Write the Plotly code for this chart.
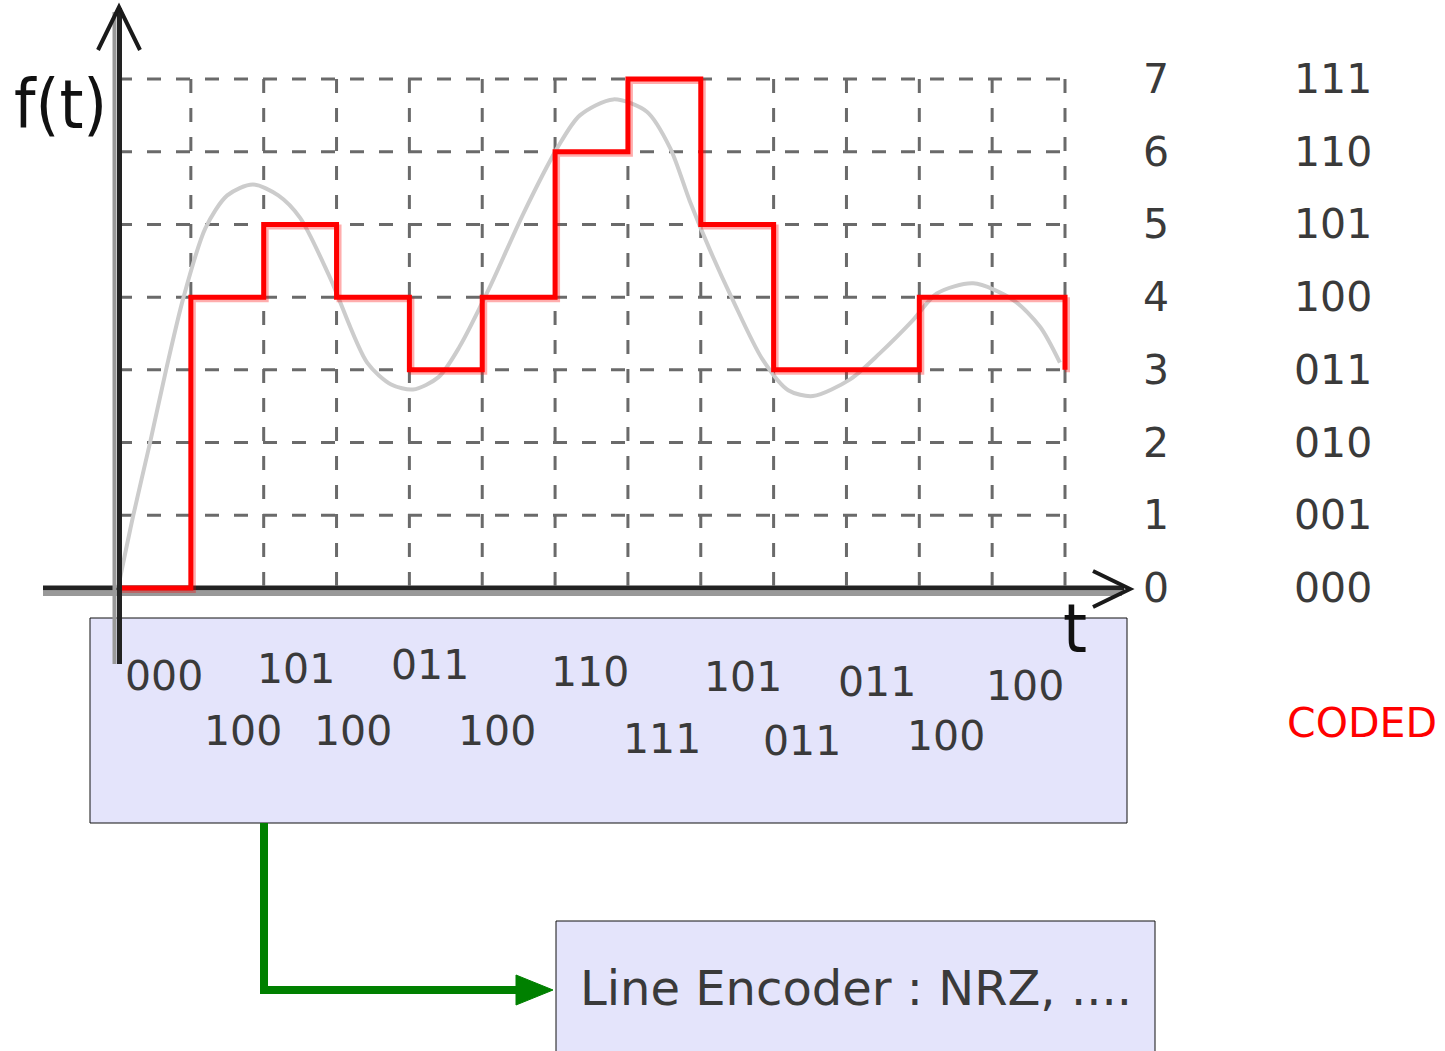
import plotly.graph_objects as go

# ---------------- data ----------------
t_edges = list(range(14))                       # sample instants 0..13
sample_levels = [0, 4, 5, 4, 3, 4, 6, 7, 5, 3, 3, 4, 4]   # quantized level per interval
final_level = 3                                  # drop at the right end
sample_codes = ["000", "100", "101", "100", "011", "100", "110",
                "111", "101", "011", "011", "100", "100"]

analog_t = [0, 0.21, 0.44, 0.66, 0.9, 1.2, 1.5, 1.85, 2.2, 2.5, 2.91, 3.42,
            3.75, 4.05, 4.4, 4.69, 5.1, 5.56, 6.03, 6.34, 6.8, 7.26, 7.58, 7.85,
            8.13, 8.44, 8.85, 9.2, 9.54, 10.05, 10.46, 10.91, 11.24, 11.74,
            12.29, 12.66, 12.93]
analog_f = [0, 1.0, 2.0, 3.0, 4.0, 4.95, 5.4, 5.55, 5.4, 5.09, 4.27, 3.1,
            2.8, 2.73, 2.9, 3.32, 4.13, 5.14, 6.05, 6.5, 6.72, 6.55, 6.05, 5.32,
            4.64, 3.96, 3.14, 2.72, 2.64, 2.87, 3.23, 3.68, 4.05, 4.19,
            3.96, 3.59, 3.1]

level_values = [0, 1, 2, 3, 4, 5, 6, 7]
level_codes = ["000", "001", "010", "011", "100", "101", "110", "111"]

# ---------------- layout geometry (pixels) ----------------
W, H = 1445, 1051
PX_T0, PX_PER_T = 118.0, 72.846
PY_Y0, PX_PER_Y = 588.0, 72.71
x_range = [-PX_T0 / PX_PER_T, (W - PX_T0) / PX_PER_T]
y_range = [(PY_Y0 - H) / PX_PER_Y, PY_Y0 / PX_PER_Y]
SH = 2.5  # shadow offset in px
x2_range = [x_range[0] - SH / PX_PER_T, x_range[1] - SH / PX_PER_T]
y2_range = [y_range[0] + SH / PX_PER_Y, y_range[1] + SH / PX_PER_Y]

def px(x):
    return x / W

def py(y):
    return 1 - y / H

TXT = "#3a3a3a"
FONT = "DejaVu Sans"
GRID_C = "#6a6a6a"

fig = go.Figure()

# grid lines (dashed)
t_max = t_edges[-1]
lvl_max = level_values[-1]
gx, gy = [], []
for t in t_edges[1:]:
    gx += [t, t, None]
    gy += [lvl_max, 0, None]
fig.add_trace(go.Scatter(x=gx, y=gy, mode="lines",
                         line=dict(color=GRID_C, width=3, dash="14px,15px"),
                         hoverinfo="skip", showlegend=False))
hx, hy = [], []
for v in level_values[1:]:
    hx += [0, t_max, None]
    hy += [v, v, None]
fig.add_trace(go.Scatter(x=hx, y=hy, mode="lines",
                         line=dict(color=GRID_C, width=3, dash="14px,15px"),
                         hoverinfo="skip", showlegend=False))

# analog signal
fig.add_trace(go.Scatter(x=analog_t, y=analog_f, mode="lines",
                         line=dict(color="#cccccc", width=4, shape="spline", smoothing=0.8),
                         hoverinfo="skip", showlegend=False))

# quantized step signal (pink shadow on offset axes, then red)
step_x = t_edges + [t_edges[-1]]
step_y = sample_levels + [sample_levels[-1], final_level]
fig.add_trace(go.Scatter(x=step_x, y=step_y, mode="lines",
                         line=dict(color="rgba(255,0,0,0.32)", width=5, shape="hv"),
                         hoverinfo="skip", showlegend=False, xaxis="x2", yaxis="y2"))
fig.add_trace(go.Scatter(x=step_x, y=step_y, mode="lines",
                         line=dict(color="#ff0000", width=5, shape="hv"),
                         hoverinfo="skip", showlegend=False))

shapes = []
# boxes
shapes.append(dict(type="rect", xref="paper", yref="paper",
                   x0=px(90), x1=px(1127), y0=py(823), y1=py(618),
                   fillcolor="#e4e4fb", line=dict(color="#111111", width=1), layer="below"))
shapes.append(dict(type="rect", xref="paper", yref="paper",
                   x0=px(556), x1=px(1155), y0=py(1060), y1=py(921),
                   fillcolor="#e4e4fb", line=dict(color="#111111", width=1), layer="below"))
# x-axis (shadow + line)
shapes.append(dict(type="line", xref="paper", yref="paper",
                   x0=px(43), x1=px(1122), y0=py(593.5), y1=py(593.5),
                   line=dict(color="#999999", width=5), layer="below"))
shapes.append(dict(type="line", xref="paper", yref="paper",
                   x0=px(43), x1=px(1124), y0=py(588), y1=py(588),
                   line=dict(color="#222222", width=5), layer="below"))
# x-axis arrow head
shapes.append(dict(type="path", xref="paper", yref="paper",
                   path=f"M {px(1093)},{py(571)} L {px(1130)},{py(589)} L {px(1093)},{py(607)}",
                   line=dict(color="#1a1a1a", width=4), layer="above"))
# y-axis (shadow + line)
shapes.append(dict(type="line", xref="paper", yref="paper",
                   x0=px(114.5), x1=px(114.5), y0=py(664), y1=py(12),
                   line=dict(color="#999999", width=4), layer="above"))
shapes.append(dict(type="line", xref="paper", yref="paper",
                   x0=px(119.5), x1=px(119.5), y0=py(664), y1=py(8),
                   line=dict(color="#222222", width=5), layer="above"))
shapes.append(dict(type="path", xref="paper", yref="paper",
                   path=f"M {px(98)},{py(50)} L {px(119)},{py(7)} L {px(140)},{py(50)}",
                   line=dict(color="#1a1a1a", width=4), layer="above"))
# green connector
shapes.append(dict(type="path", xref="paper", yref="paper",
                   path=f"M {px(264)},{py(823)} L {px(264)},{py(990)} L {px(520)},{py(990)}",
                   line=dict(color="#008000", width=8), layer="above"))
shapes.append(dict(type="path", xref="paper", yref="paper",
                   path=f"M {px(516)},{py(975)} L {px(553)},{py(990)} L {px(516)},{py(1005)} Z",
                   fillcolor="#008000", line=dict(color="#008000", width=1), layer="above"))

annotations = []
# level numbers and codes on the right
for v, c in zip(level_values, level_codes):
    annotations.append(dict(x=px(1156), xref="paper", y=v, yref="y", text=str(v),
                            showarrow=False, font=dict(family=FONT, size=41, color=TXT),
                            xanchor="center", yanchor="middle"))
    annotations.append(dict(x=px(1333), xref="paper", y=v, yref="y", text=c,
                            showarrow=False, font=dict(family=FONT, size=41, color=TXT),
                            xanchor="center", yanchor="middle"))

# codes inside the box (staggered in two rows)
code_pos = [(164, 676), (243, 731), (296, 669), (353, 731), (430, 665), (497, 731),
            (590, 672), (662, 739), (743, 677), (802, 741), (877, 682), (946, 736),
            (1025, 686)]
for c, (cx, cy) in zip(sample_codes, code_pos):
    annotations.append(dict(x=px(cx), xref="paper", y=py(cy), yref="paper", text=c,
                            showarrow=False, font=dict(family=FONT, size=41, color=TXT),
                            xanchor="center", yanchor="middle"))

annotations.append(dict(x=px(1362), xref="paper", y=py(723), yref="paper", text="CODED",
                        showarrow=False, font=dict(family=FONT, size=41, color="#ff0000"),
                        xanchor="center", yanchor="middle"))
annotations.append(dict(x=px(60), xref="paper", y=py(104), yref="paper", text="f(t)",
                        showarrow=False,
                        font=dict(family="DejaVu Sans Condensed, DejaVu Sans", size=68, color="#111111"),
                        xanchor="center", yanchor="middle"))
annotations.append(dict(x=px(1075), xref="paper", y=py(628), yref="paper", text="t",
                        showarrow=False,
                        font=dict(family="DejaVu Sans Condensed, DejaVu Sans", size=68, color="#111111"),
                        xanchor="center", yanchor="middle"))
annotations.append(dict(x=px(856), xref="paper", y=py(988), yref="paper",
                        text="Line Encoder : NRZ, ....",
                        showarrow=False, font=dict(family=FONT, size=48, color=TXT),
                        xanchor="center", yanchor="middle"))

fig.update_layout(
    width=W, height=H,
    margin=dict(l=0, r=0, t=0, b=0),
    paper_bgcolor="white", plot_bgcolor="white",
    xaxis=dict(range=x_range, visible=False, fixedrange=True),
    yaxis=dict(range=y_range, visible=False, fixedrange=True),
    xaxis2=dict(range=x2_range, visible=False, fixedrange=True, overlaying="x"),
    yaxis2=dict(range=y2_range, visible=False, fixedrange=True, overlaying="y"),
    shapes=shapes, annotations=annotations,
    showlegend=False,
)

fig.write_html("out.html", config={"displayModeBar": False},
               post_script="document.body.style.margin='0';document.body.style.overflow='hidden';")
